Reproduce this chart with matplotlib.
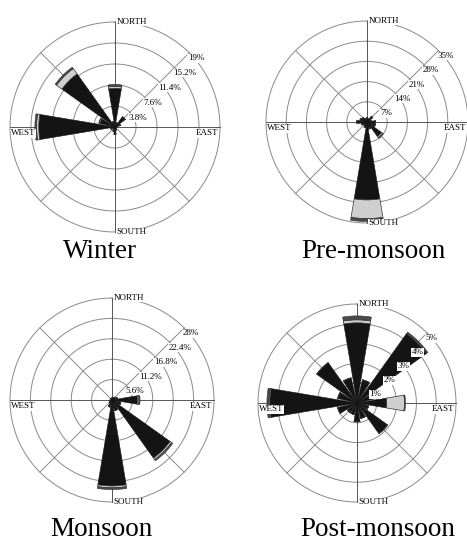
import numpy as np
import matplotlib.pyplot as plt

plt.rcParams['font.family'] = ['Liberation Serif', 'DejaVu Serif']

W_PX, H_PX = 467, 545

directions = ['N', 'NNE', 'NE', 'ENE', 'E', 'ESE', 'SE', 'SSE',
              'S', 'SSW', 'SW', 'WSW', 'W', 'WNW', 'NW', 'NNW']

# frequency (%) per direction, split into three classes: black / light grey / dark grey
winter_black = [7.0, 0.8, 2.3, 1.0, 0.4, 0.3, 0.3, 0.6, 1.3, 0.8, 0.5, 0.8, 13.8, 2.8, 11.8, 1.0]
winter_light = [0.35, 0, 0, 0, 0, 0, 0, 0, 0, 0, 0, 0, 0.4, 0.2, 1.2, 0]
winter_dark = [0.35, 0, 0, 0, 0, 0, 0, 0, 0, 0, 0, 0, 0.3, 0, 0.3, 0]
winter_rings = [3.8, 7.6, 11.4, 15.2, 19]
winter_ring_labels = ['3.8%', '7.6%', '11.4%', '15.2%', '19%']

pre_black = [1.5, 1.2, 2.5, 1.5, 3.0, 3.0, 6.2, 2.5, 27.0, 2.0, 1.5, 2.0, 3.5, 2.5, 2.0, 1.2]
pre_light = [0, 0, 0, 0, 0, 0, 0.5, 0, 6.5, 0, 0, 0, 0, 0, 0, 0]
pre_dark = [0, 0, 0, 0, 0, 0, 0.3, 0, 1.0, 0, 0, 0, 0, 0, 0, 0]
pre_rings = [7, 14, 21, 28, 35]
pre_ring_labels = ['7%', '14%', '21%', '28%', '35%']

mon_black = [0.6, 0.8, 1.0, 1.5, 7.0, 2.5, 19.6, 3.0, 23.6, 2.0, 1.0, 0.8, 0.5, 0.5, 0.6, 0.5]
mon_light = [0, 0, 0, 0, 0.4, 0, 0.5, 0, 0.5, 0, 0, 0, 0, 0, 0, 0]
mon_dark = [0, 0, 0, 0, 0.3, 0, 0.4, 0, 0.5, 0, 0, 0, 0, 0, 0, 0]
mon_rings = [5.6, 11.2, 16.8, 22.4, 28]
mon_ring_labels = ['5.6%', '11.2%', '16.8%', '22.4%', '28%']

post_black = [4.05, 1.2, 4.3, 1.2, 1.5, 0.6, 1.9, 0.8, 0.95, 0.6, 0.6, 1.0, 4.4, 1.0, 2.5, 1.3]
post_light = [0.15, 0, 0, 0, 0.9, 0, 0, 0, 0, 0, 0, 0, 0.05, 0, 0, 0]
post_dark = [0.2, 0, 0.1, 0, 0.05, 0, 0, 0, 0, 0, 0, 0, 0.1, 0, 0, 0]
post_rings = [1, 2, 3, 4, 5]
post_ring_labels = ['1%', '2%', '3%', '4%', '5%']

seasons = ['Winter', 'Pre-monsoon', 'Monsoon', 'Post-monsoon']


def rose(fig, cx, cy, rad, black, light, dark, rings, ring_labels):
    # place a polar axes by its centre and radius in pixels
    ax = fig.add_axes([(cx - rad) / W_PX, 1 - (cy + rad) / H_PX,
                       2 * rad / W_PX, 2 * rad / H_PX], projection='polar')
    ax.set_theta_zero_location('N')
    ax.set_theta_direction(-1)
    rmax = rings[-1]
    ax.set_ylim(0, rmax)
    ax.axis('off')

    t = np.linspace(0, 2 * np.pi, 400)
    for r in rings:
        ax.plot(t, np.full_like(t, r), color='#8a8a8a', lw=0.7, zorder=1,
                clip_on=False)
    for a in np.arange(0, 360, 45):
        col = '#555555' if a % 90 == 0 else '#8a8a8a'
        ax.plot([np.radians(a)] * 2, [0, rmax], color=col, lw=0.7, zorder=1,
                clip_on=False)

    theta = np.radians(np.arange(16) * 22.5)
    width = np.radians(19)
    black = np.array(black)
    light = np.array(light)
    dark = np.array(dark)
    ax.bar(theta, black, width=width, color='#141414', edgecolor='#141414',
           lw=0.4, zorder=3, clip_on=False)
    ax.bar(theta, light, width=width, bottom=black, color='#cfcfcf',
           edgecolor='#333333', lw=0.5, zorder=3, clip_on=False)
    ax.bar(theta, dark, width=width, bottom=black + light, color='#4a4a4a',
           edgecolor='#333333', lw=0.4, zorder=3, clip_on=False)

    box = dict(facecolor='white', edgecolor='none', pad=0.3)
    for r, lab in zip(rings, ring_labels):
        ax.annotate(lab, xy=(np.radians(45), r), xytext=(-1, -1),
                    textcoords='offset points', ha='left', va='top',
                    fontsize=6.5, bbox=box, zorder=5, annotation_clip=False)

    ax.annotate('NORTH', xy=(0, rmax), xytext=(1, 0), textcoords='offset points',
                ha='left', va='center', fontsize=6.5, bbox=box, zorder=5,
                annotation_clip=False)
    ax.annotate('SOUTH', xy=(np.pi, rmax), xytext=(1, 0), textcoords='offset points',
                ha='left', va='center', fontsize=6.5, bbox=box, zorder=5,
                annotation_clip=False)
    ax.annotate('EAST', xy=(np.pi / 2, rmax), xytext=(-1, -1.5),
                textcoords='offset points', ha='right', va='top', fontsize=6.5,
                bbox=box, zorder=5, annotation_clip=False)
    ax.annotate('WEST', xy=(3 * np.pi / 2, rmax), xytext=(1, -1.5),
                textcoords='offset points', ha='left', va='top', fontsize=6.5,
                bbox=box, zorder=5, annotation_clip=False)
    return ax


fig = plt.figure(figsize=(W_PX / 100, H_PX / 100), dpi=100)

rose(fig, 115, 127, 105, winter_black, winter_light, winter_dark,
     winter_rings, winter_ring_labels)
rose(fig, 367, 122, 101, pre_black, pre_light, pre_dark,
     pre_rings, pre_ring_labels)
rose(fig, 112, 400, 102, mon_black, mon_light, mon_dark,
     mon_rings, mon_ring_labels)
rose(fig, 357, 403, 99, post_black, post_light, post_dark,
     post_rings, post_ring_labels)

title_pos = [(100, 252), (373, 252), (101, 530), (378, 530)]
for name, (x, y) in zip(seasons, title_pos):
    fig.text(x / W_PX, 1 - y / H_PX, name, ha='center', va='center', fontsize=19.5)

fig.savefig('out.png', dpi=100)
